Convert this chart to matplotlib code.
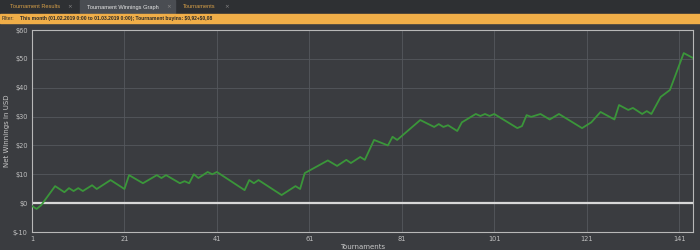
import matplotlib
matplotlib.use("Agg")
import matplotlib.pyplot as plt
from matplotlib.patches import Rectangle

# Tournament number / cumulative net winnings (USD) at the corners of the graph
tournaments = [1, 2, 3, 6, 8, 9, 10, 11, 12, 14, 15, 18, 21, 22, 25, 28, 29, 30,
               33, 34, 35, 36, 37, 39, 40, 41, 47, 48, 49, 50, 55, 58, 59, 60,
               65, 67, 69, 70, 72, 73, 75, 78, 79, 80, 85, 88, 89, 90, 91, 93,
               94, 97, 98, 99, 100, 101, 106, 107, 108, 109, 111, 113, 115, 120,
               122, 124, 127, 128, 130, 131, 133, 134, 135, 137, 139, 142, 144]
winnings = [-1, -2, -0.7, 5.9, 3.8, 5.2, 4.2, 5.2, 4.2, 6.2, 4.9, 8, 4.9, 9.7,
            6.9, 9.7, 8.7, 9.7, 6.9, 7.6, 6.9, 10, 8.7, 10.8, 10, 10.8, 4.5, 8,
            6.9, 8, 2.8, 5.9, 4.9, 10.4, 14.8, 12.9, 15, 13.9, 16, 15, 21.9, 20,
            23, 21.9, 28.8, 26.4, 27.4, 26.4, 27, 25, 28, 30.9, 30.2, 30.9, 30.2,
            30.9, 26, 26.7, 30.5, 29.9, 30.9, 29, 30.9, 26, 28, 31.6, 29, 34,
            32.3, 33, 30.9, 31.9, 30.9, 36.8, 39.2, 52, 50.3]

x_ticks = [1, 21, 41, 61, 81, 101, 121, 141]
y_ticks = [-10, 0, 10, 20, 30, 40, 50, 60]
y_tick_labels = ["\\$-10", "\\$0", "\\$10", "\\$20", "\\$30", "\\$40", "\\$50", "\\$60"]

tabs = ["Tournament Results", "Tournament Winnings Graph", "Tournaments"]
filter_text = "This month (01.02.2019 0:00 to 01.03.2019 0:00); Tournament buyins: \\$0,92+\\$0,08"

bg = "#3a3c40"
fig = plt.figure(figsize=(7, 2.5), dpi=100, facecolor=bg)

# tab bar
fig.add_artist(Rectangle((0, 1 - 13/250), 1, 13/250, transform=fig.transFigure,
                         color="#2e3033", zorder=0))
fig.add_artist(Rectangle((80/700, 1 - 13/250), 95/700, 13/250, transform=fig.transFigure,
                         color="#4a4d52", zorder=1))
tab_x = [10, 87, 183]
close_x = [67, 166, 224]
tab_col = ["#d8a048", "#e8e8e8", "#d8a048"]
for name, tx, cx, c in zip(tabs, tab_x, close_x, tab_col):
    fig.text(tx/700, 1 - 7/250, name, color=c, fontsize=4.1, family="Liberation Sans",
             va="center", zorder=2)
    fig.text(cx/700, 1 - 7/250, "×", color="#8a8a8a", fontsize=4.1, va="center", zorder=2)

# filter bar
fig.add_artist(Rectangle((0, 1 - 23/250), 1, 9/250, transform=fig.transFigure,
                         color="#f0ae48", zorder=1))
fig.text(2/700, 1 - 18.5/250, "Filter:", color="#2a2a2a", fontsize=3.6,
         family="Liberation Sans", va="center", zorder=2)
fig.text(20/700, 1 - 18.5/250, filter_text, color="#2a2a2a", fontsize=3.6,
         family="Liberation Sans", fontweight="bold", va="center", zorder=2)

ax = fig.add_axes([32/700, 18/250, 661/700, 202/250])
ax.set_facecolor(bg)
ax.plot(tournaments, winnings, color="#3a963a", linewidth=1.3, zorder=3)
ax.axhline(0, color="#d8d8d8", linewidth=1.6, zorder=2)

ax.set_xlim(1, 144)
ax.set_ylim(-10, 60)
ax.set_xticks(x_ticks)
ax.set_yticks(y_ticks)
ax.set_yticklabels(y_tick_labels)
ax.grid(True, color="#55585d", linewidth=0.6)
ax.tick_params(colors="#c0c0c0", labelsize=4.8, length=0, pad=3)
for s in ax.spines.values():
    s.set_color("#b8b8b8")
    s.set_linewidth(0.8)
ax.set_ylabel("Net Winnings in USD", color="#c8c8c8", fontsize=5, labelpad=2)
ax.set_xlabel("Tournaments", color="#c8c8c8", fontsize=5, labelpad=1)

plt.savefig("out.png", dpi=100, facecolor=bg)
